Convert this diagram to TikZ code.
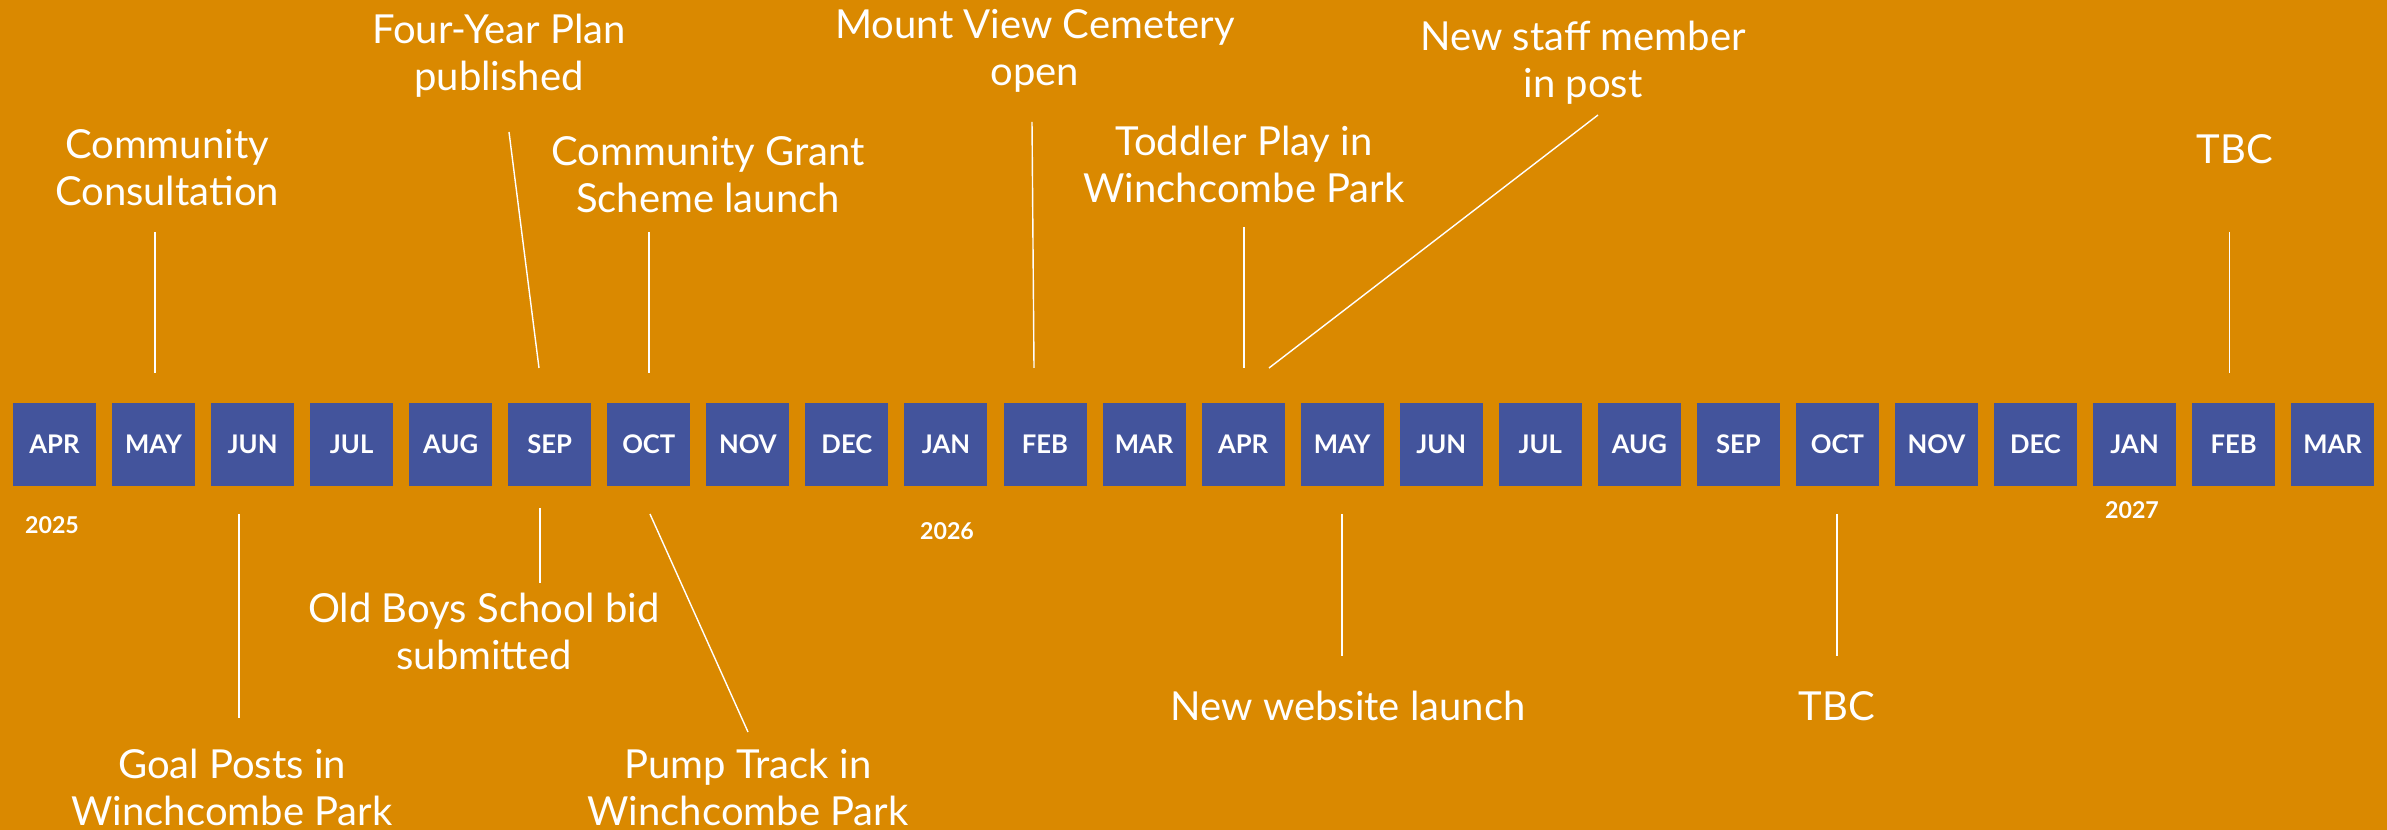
\documentclass[tikz,border=0pt]{standalone}
\usepackage{fontspec}
\setmainfont{Lato}
\definecolor{bgorange}{RGB}{218,137,0}
\definecolor{boxblue}{RGB}{67,84,156}
\begin{document}
\begin{tikzpicture}[x=0.02cm,y=-0.02cm,
  mon/.style={rectangle,fill=boxblue,minimum width=1.66cm,minimum height=1.66cm,inner sep=0pt,text=white,font=\fontsize{14.6}{17}\selectfont\bfseries},
  lbl/.style={text=white,inner sep=0pt,align=center,anchor=north,font=\fontsize{22.76}{26.75}\selectfont},
  yr/.style={text=white,inner sep=0pt,anchor=base,font=\fontsize{13.2}{15}\selectfont\bfseries},
  conn/.style={draw=white,line width=0.8pt}]
\fill[bgorange] (0,0) rectangle (2387,830);
\useasboundingbox (0,0) rectangle (2387,830);
\foreach \m [count=\i from 0] in {APR,MAY,JUN,JUL,AUG,SEP,OCT,NOV,DEC,JAN,FEB,MAR,APR,MAY,JUN,JUL,AUG,SEP,OCT,NOV,DEC,JAN,FEB,MAR}
  \node[mon] (m\i) at ({54.5+99.05*\i},444.5) {\m};
\node[yr] (y25) at (52,534) {2025};
\node[yr] (y26) at (947,540) {2026};
\node[yr] (y27) at (2132,519) {2027};
% labels
\node[lbl] (l1) at (167,125.1) {\strut Community\\\strut Consultation};
\node[lbl] (l2) at (499,10.1) {\strut Four-Year Plan\\\strut published};
\node[lbl] (l3) at (708,132.1) {\strut Community Grant\\\strut Scheme launch};
\node[lbl] (l4) at (1035,5.1) {\strut Mount View Cemetery\\\strut open};
\node[lbl] (l5) at (1244,122.1) {\strut Toddler Play in\\\strut Winchcombe Park};
\node[lbl] (l6) at (1583,17.1) {\strut New staff member\\\strut in post};
\node[lbl] (l7) at (2235,130.1) {\strut TBC};
\node[lbl] (l8) at (484,589.1) {\strut Old Boys School bid\\\strut submitted};
\node[lbl] (l9) at (232,745.1) {\strut Goal Posts in\\\strut Winchcombe Park};
\node[lbl] (l10) at (748,745.1) {\strut Pump Track in\\\strut Winchcombe Park};
\node[lbl] (l11) at (1348,687.1) {\strut New website launch};
\node[lbl] (l12) at (1837,687.1) {\strut TBC};
% connector end points
\coordinate (a1) at (155,232);   \coordinate (b1) at (155,373);
\coordinate (a2) at (509,132);   \coordinate (b2) at (539,368);
\coordinate (a3) at (649,232);   \coordinate (b3) at (649,373);
\coordinate (a4) at (1032,122);  \coordinate (b4) at (1034,368);
\coordinate (a5) at (1244,227);  \coordinate (b5) at (1244,368);
\coordinate (a6) at (1598,115);  \coordinate (b6) at (1269,368);
\coordinate (a7) at (2229.5,232); \coordinate (b7) at (2229.5,373);
\coordinate (a8) at (239,514);   \coordinate (b8) at (239,718);
\coordinate (a9) at (540,508);   \coordinate (b9) at (540,583);
\coordinate (a10) at (650,514);  \coordinate (b10) at (748,732);
\coordinate (a11) at (1342,514); \coordinate (b11) at (1342,656);
\coordinate (a12) at (1837,514); \coordinate (b12) at (1837,656);
\foreach \k in {1,...,12} \draw[conn] (a\k) -- (b\k);
\end{tikzpicture}
\end{document}
